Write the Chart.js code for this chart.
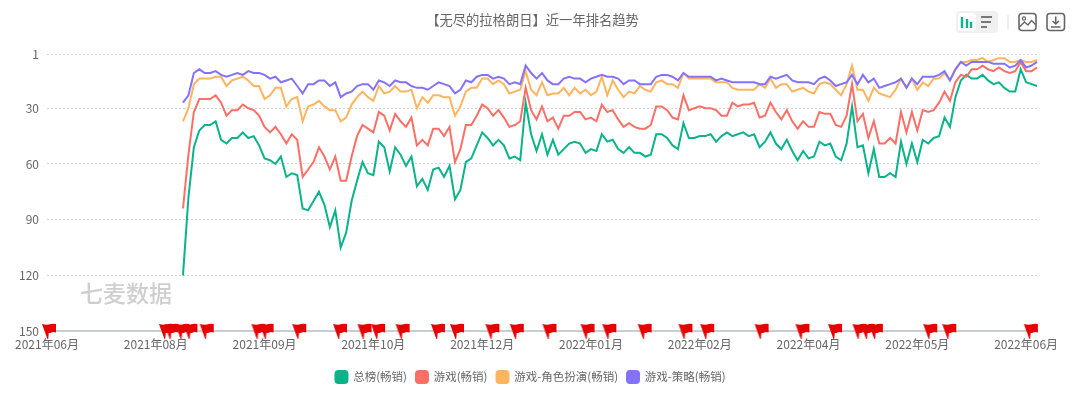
<!DOCTYPE html>
<html>
<head>
<meta charset="utf-8">
<script src="https://cdn.jsdelivr.net/npm/chart.js@4"></script>
<style>
    html, body { margin: 0; padding: 0; background: #fff; overflow: hidden; }
    #wrap { position: relative; width: 1080px; height: 393px; }
    #watermark { position: absolute; left: 80px; top: 277px; font: 500 23px "Noto Sans CJK SC"; line-height: 30px; color: #cfcfcf; }
    #tools { position: absolute; left: 0; top: 0; }
</style>
</head>
<body>
<div id="wrap">
    <canvas id="rank-chart" width="1080" height="393"></canvas>
    <div id="watermark">七麦数据</div>
    <svg id="tools" width="1080" height="40" fill="none">
        <rect x="956" y="11" width="42" height="22" rx="4" fill="#f0f0f0"/>
        <rect x="958" y="13" width="18" height="18" rx="3" fill="#fff"/>
        <path d="M962 17v11M967 19v9M971 22v6" stroke="#0bb48c" stroke-width="2.4"/>
        <path d="M981 17h11M981 22h10M981 27h6" stroke="#777" stroke-width="1.8"/>
        <path d="M1008 15v14" stroke="#ddd"/>
        <rect x="1019" y="13.5" width="17" height="17" rx="3" stroke="#666" stroke-width="1.6"/>
        <circle cx="1024" cy="18.5" r="1.6" stroke="#666" stroke-width="1.2"/>
        <path d="M1019.5 27l5-5 3.500 3 3.500-4.500 4.500 4.500" stroke="#666" stroke-width="1.4"/>
        <rect x="1047" y="13.500" width="17.500" height="17" rx="3" stroke="#666" stroke-width="1.6"/>
        <path d="M1055.700 16.500v7M1052.500 21l3.200 3 3.200-3M1051 27h9.500" stroke="#666" stroke-width="1.6"/>
    </svg>
</div>
<script>
const monthLabels = ['2021年06月', '2021年08月', '2021年09月', '2021年10月', '2021年12月', '2022年01月', '2022年02月', '2022年04月', '2022年05月', '2022年06月'];
const yTicks = [1, 30, 60, 90, 120, 150];

// ranks every 2 days, first reading is point 25
const overall = [120,78,51,42,39,39,37,47,49,46,46,43,46,45,50,57,58,60,56,67,
    65,66,84,85,80,75,82,94,85,105,97,80,69,59,65,66,48,51,64,
    51,55,61,56,72,68,74,63,62,67,61,79,74,59,57,50,43,46,50,47,50,57,56,58,
    27,44,53,44,55,47,55,52,49,48,49,54,52,53,44,48,
    47,52,54,51,54,54,56,55,44,44,46,50,52,38,46,46,45,45,44,48,45,43,45,44,43,45,44,51,48,43,49,52,47,53,58,53,57,56,48,50,
    49,56,58,49,29,51,50,65,52,67,67,65,67,48,60,49,59,47,49,46,45,35,40,24,15,12,14,14,12,15,17,16,19,21,21,9,16,17,18];
const games = [84,55,32,25,25,25,23,27,34,31,31,28,30,31,34,40,43,40,44,49,
    44,47,67,63,59,51,56,63,56,69,69,56,45,39,41,43,32,34,42,
    33,37,40,35,50,47,50,41,41,45,40,59,52,39,39,34,28,30,34,31,35,40,39,37,
    19,31,36,29,37,35,41,34,34,32,32,36,35,37,28,32,
    31,36,40,38,40,41,41,39,29,29,31,35,36,23,31,30,29,30,30,31,34,34,27,29,28,28,27,35,34,27,32,36,31,37,41,37,40,40,32,33,
    33,39,40,34,17,37,33,46,37,49,49,46,49,32,43,32,42,31,32,31,27,21,26,16,12,13,9,9,7,9,10,8,10,11,10,5,10,10,8];
const rpg = [37,30,17,14,14,14,13,13,18,15,14,13,15,18,18,25,23,19,19,29,
    25,24,37,29,28,26,29,31,31,37,35,28,24,21,24,26,18,22,21,
    18,21,21,20,30,24,27,23,23,24,24,34,29,21,19,19,14,14,17,15,17,22,21,20,
    10,20,23,16,23,22,22,19,23,19,22,20,23,21,13,23,
    15,20,24,21,22,18,20,21,16,15,17,17,19,11,14,14,14,14,14,16,16,16,19,20,20,20,20,17,19,14,19,17,17,21,20,19,21,22,17,16,
    17,20,23,17,7,20,20,26,19,22,23,24,20,14,19,14,20,16,18,14,14,11,15,9,5,5,4,4,3,5,4,3,3,5,5,4,5,5,4];
const strategy = [27,23,11,9,11,11,10,12,13,12,11,12,10,11,11,12,14,13,16,15,
    14,18,22,17,17,15,15,18,16,24,22,21,18,17,17,20,15,16,18,
    15,16,16,18,19,19,20,18,16,17,18,22,20,15,16,13,12,12,14,13,14,17,16,17,
    7,11,14,11,15,17,17,14,13,14,14,16,14,13,12,13,
    13,14,17,15,15,17,17,17,13,12,12,13,15,11,13,13,13,13,13,15,14,15,16,16,16,16,16,17,17,13,14,13,12,15,16,16,16,17,14,13,
    15,18,17,16,12,17,12,16,14,19,18,17,16,14,19,14,17,13,13,13,12,10,15,9,5,7,5,5,5,5,6,6,6,8,7,4,8,7,5];

// days since the first date that carry a version flag
const flagDays = [0,43,45,49,52,58,77,80,92,107,116,121,130,143,150,163,172,184,198,206,219,234,242,262,277,289,298,301,304,324,331,361];

const POINTS = 183, LEAD = 25, DAYS = 364;
const categories = [];
for (let i = 0; i < POINTS; i++) {
    categories.push(i % 20 === 0 ? monthLabels[i / 20] : '');
}
const blank = new Array(LEAD).fill(null);

// flag icon, the pole tip sits 8px under the canvas centre
function makeFlag() {
    const c = document.createElement('canvas');
    c.width = 34;
    c.height = 34;
    const g = c.getContext('2d');
    g.translate(17, 25);
    g.fillStyle = '#e60000';
    g.beginPath();
    g.moveTo(-5, -15);
    g.quadraticCurveTo(0, -13.5, 4, -15);
    g.quadraticCurveTo(6.500, -15.500, 9, -15);
    g.lineTo(9, -6.500);
    g.quadraticCurveTo(6, -7.500, 3.500, -6);
    g.lineTo(1.800, -6);
    g.lineTo(1.200, 0);
    g.lineTo(0.400, 0);
    g.closePath();
    g.fill();
    return c;
}

function lineSet(label, values, color, order) {
    return {
        label: label,
        data: [...blank, ...values],
        borderColor: color,
        backgroundColor: color,
        borderWidth: 2,
        pointRadius: 0,
        tension: 0,
        order: order
    };
}

// title and legend are not centred on the canvas in the reference
const nudgeBoxes = {
    id: 'nudgeBoxes',
    afterLayout(chart) {
        chart.titleBlock.left += 14;
        chart.titleBlock.right += 14;
        chart.legend.left += 12;
        chart.legend.right += 12;
    }
};

const FONT = '"Noto Sans CJK SC", "Noto Sans", sans-serif';
new Chart(document.getElementById('rank-chart').getContext('2d'), {
    type: 'line',
    data: {
        labels: categories,
        datasets: [
            lineSet('总榜(畅销)', overall, '#0ab38a', 4),
            lineSet('游戏(畅销)', games, '#fb6f66', 3),
            lineSet('游戏-角色扮演(畅销)', rpg, '#ffb45f', 2),
            lineSet('游戏-策略(畅销)', strategy, '#8472ff', 1),
            {
                label: 'flags',
                data: flagDays.map(d => ({ x: d, y: 150 })),
                xAxisID: 'xFlags',
                showLine: false,
                pointStyle: makeFlag(),
                pointRadius: 17,
                clip: false,
                order: 0
            }
        ]
    },
    options: {
        responsive: false,
        animation: false,
        layout: { padding: { left: 0, right: 43, top: 0, bottom: 0 } },
        plugins: {
            tooltip: { enabled: false },
            title: {
                display: true,
                text: '【无尽的拉格朗日】近一年排名趋势',
                color: '#666',
                font: { family: FONT, size: 13.3, weight: 'normal' },
                padding: { top: 12, bottom: 26.500 }
            },
            legend: {
                position: 'bottom',
                labels: {
                    filter: item => item.text !== 'flags',
                    sort: (a, b) => a.datasetIndex - b.datasetIndex,
                    boxWidth: 12,
                    boxHeight: 12,
                    useBorderRadius: true,
                    borderRadius: 3,
                    padding: 9,
                    color: '#666',
                    font: { family: FONT, size: 11.500 }
                }
            }
        },
        scales: {
            x: {
                offset: false,
                grid: { display: false, drawTicks: false },
                border: { color: '#c8ccd4', width: 2 },
                afterFit(scale) { scale.height = 31; },
                ticks: {
                    autoSkip: false,
                    maxRotation: 0,
                    padding: 6,
                    color: '#666',
                    font: { family: FONT, size: 12 },
                    callback(value, index) { return categories[index]; }
                }
            },
            xFlags: { type: 'linear', display: false, min: 0, max: DAYS },
            y: {
                reverse: true,
                min: 1,
                max: 150,
                afterBuildTicks(scale) { scale.ticks = yTicks.map(v => ({ value: v })); },
                afterFit(scale) { scale.width = 47; },
                border: { display: false, dash: [2, 2] },
                grid: { color: '#d4d4d4', drawTicks: false, tickLength: 0, lineWidth: 1 },
                ticks: { padding: 8, color: '#666', font: { family: FONT, size: 12 } }
            }
        }
    },
    plugins: [nudgeBoxes]
});
</script>
</body>
</html>
